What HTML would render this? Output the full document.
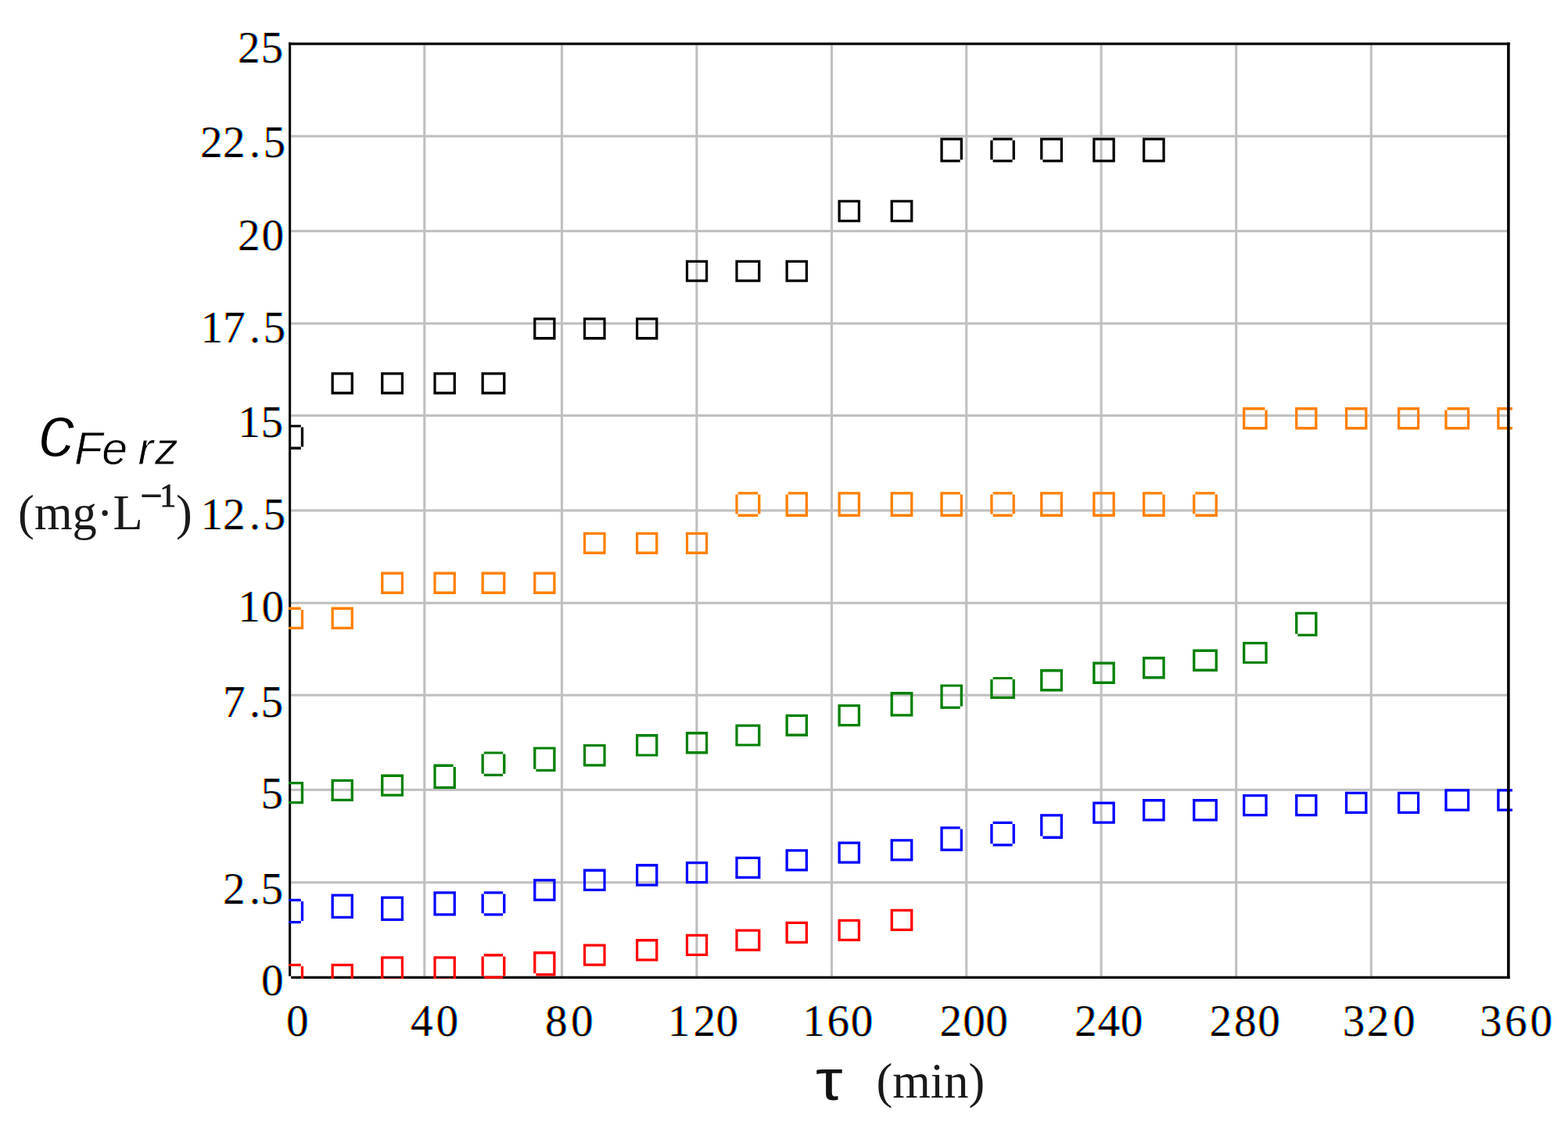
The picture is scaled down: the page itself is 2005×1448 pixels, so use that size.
<!DOCTYPE html>
<html lang="en">
<head>
<meta charset="utf-8">
<title>c Fe rz vs tau</title>
<style>
html,body{margin:0;padding:0;background:#fff;}
body{width:2005px;height:1448px;overflow:hidden;}
svg{display:block;}
.t{font-family:"Liberation Serif","DejaVu Serif",serif;font-size:57px;fill:#000;}
.u{font-family:"Liberation Serif","DejaVu Serif",serif;font-size:62.5px;fill:#1a1a1a;}
.a{font-family:"Liberation Sans","DejaVu Sans",sans-serif;font-style:italic;fill:#000;}
</style>
</head>
<body>
<svg width="2005" height="1448" viewBox="0 0 2005 1448">
<rect x="0" y="0" width="2005" height="1448" fill="#ffffff"/>
<defs><filter id="ct" filterUnits="userSpaceOnUse" x="240" y="30" width="1765" height="1310" color-interpolation-filters="sRGB"><feOffset in="SourceAlpha" dx="1.10" result="ar"/><feColorMatrix in="ar" type="matrix" values="0 0 0 0 0  0 0 0 0 1  0 0 0 0 1  0 0 0 1.00 0" result="lr"/><feColorMatrix in="SourceAlpha" type="matrix" values="0 0 0 0 1  0 0 0 0 0  0 0 0 0 1  0 0 0 1 0" result="lg"/><feOffset in="SourceAlpha" dx="-1.10" result="ab"/><feColorMatrix in="ab" type="matrix" values="0 0 0 0 1  0 0 0 0 1  0 0 0 0 0  0 0 0 1.00 0" result="lb"/><feBlend in="lr" in2="lg" mode="multiply" result="m1"/><feBlend in="m1" in2="lb" mode="multiply"/></filter></defs>
<defs><clipPath id="pc"><rect x="369.1" y="54.5" width="1564.8" height="1197.5"/></clipPath></defs>
<g fill="#c0c0c0">
<rect x="541.25" y="57.55" width="3.10" height="1191.25"/>
<rect x="716.85" y="57.55" width="3.10" height="1191.25"/>
<rect x="889.35" y="57.55" width="3.10" height="1191.25"/>
<rect x="1061.95" y="57.55" width="3.10" height="1191.25"/>
<rect x="1234.25" y="57.55" width="3.10" height="1191.25"/>
<rect x="1406.55" y="57.55" width="3.10" height="1191.25"/>
<rect x="1579.15" y="57.55" width="3.10" height="1191.25"/>
<rect x="1751.75" y="57.55" width="3.10" height="1191.25"/>
<rect x="372.15" y="172.65" width="1555.40" height="3.10"/>
<rect x="372.15" y="294.05" width="1555.40" height="3.10"/>
<rect x="372.15" y="412.25" width="1555.40" height="3.10"/>
<rect x="372.15" y="530.05" width="1555.40" height="3.10"/>
<rect x="372.15" y="651.45" width="1555.40" height="3.10"/>
<rect x="372.15" y="769.75" width="1555.40" height="3.10"/>
<rect x="372.15" y="887.65" width="1555.40" height="3.10"/>
<rect x="372.15" y="1008.75" width="1555.40" height="3.10"/>
<rect x="372.15" y="1127.25" width="1555.40" height="3.10"/>
</g>
<g fill="#000">
<rect x="369.05" y="54.45" width="3.10" height="1194.25"/>
<rect x="369.05" y="54.45" width="1561.60" height="3.20"/>
<rect x="372.15" y="1248.70" width="1558.50" height="3.20"/>
</g>
<g clip-path="url(#pc)">
<g fill="#000000">
<path d="M359.8 543.4H384.8V546.6H359.8ZM359.8 571.6H384.8V574.9H359.8ZM359.8 543.4H363.1V574.9H359.8ZM384.8 546.6H388.1V571.6H384.8Z"/>
<path d="M423.5 476.2H451.9V479.6H423.5ZM423.5 501.1H451.9V504.4H423.5ZM423.5 476.2H426.8V504.4H423.5ZM448.6 476.2H451.9V504.4H448.6Z"/>
<path d="M487.1 476.2H516V479.6H487.1ZM487.1 501.1H516V504.4H487.1ZM487.1 476.2H490.4V504.4H487.1ZM512.8 476.2H516V504.4H512.8Z"/>
<path d="M554.4 476.2H582.9V479.6H554.4ZM554.4 501.1H582.9V504.4H554.4ZM554.4 476.2H557.6V504.4H554.4ZM579.6 476.2H582.9V504.4H579.6Z"/>
<path d="M615.5 476.2H646.4V479.6H615.5ZM615.5 501.1H646.4V504.4H615.5ZM615.5 476.2H618.8V504.4H615.5ZM643.1 476.2H646.4V504.4H643.1Z"/>
<path d="M682.1 406.2H710.5V409.5H682.1ZM682.1 431.1H710.5V434.4H682.1ZM682.1 406.2H685.4V434.4H682.1ZM707.2 406.2H710.5V434.4H707.2Z"/>
<path d="M745.9 406.2H774.6V409.5H745.9ZM745.9 431.1H774.6V434.4H745.9ZM745.9 406.2H749.1V434.4H745.9ZM771.4 406.2H774.6V434.4H771.4Z"/>
<path d="M813 406.2H841.4V409.5H813ZM813 431.1H841.4V434.4H813ZM813 406.2H816.2V434.4H813ZM838.1 406.2H841.4V434.4H838.1Z"/>
<path d="M876.9 332.7H905.2V336H876.9ZM876.9 357.5H905.2V360.8H876.9ZM876.9 332.7H880.1V360.8H876.9ZM902 332.7H905.2V360.8H902Z"/>
<path d="M940.4 332.7H972.4V336H940.4ZM940.4 357.5H972.4V360.8H940.4ZM940.4 332.7H943.6V360.8H940.4ZM969.1 332.7H972.4V360.8H969.1Z"/>
<path d="M1004.5 332.7H1033V336H1004.5ZM1004.5 357.5H1033V360.8H1004.5ZM1004.5 332.7H1007.8V360.8H1004.5ZM1029.7 332.7H1033V360.8H1029.7Z"/>
<path d="M1071.5 255.8H1100.1V259.1H1071.5ZM1071.5 280.9H1100.1V284.2H1071.5ZM1071.5 255.8H1074.8V284.2H1071.5ZM1096.8 255.8H1100.1V284.2H1096.8Z"/>
<path d="M1138.6 255.8H1167.4V259.1H1138.6ZM1138.6 280.9H1167.4V284.2H1138.6ZM1138.6 255.8H1141.9V284.2H1138.6ZM1164.1 255.8H1167.4V284.2H1164.1Z"/>
<path d="M1202.4 176.2H1231V179.6H1202.4ZM1202.4 204.2H1227.7V207.5H1202.4ZM1202.4 176.2H1205.7V207.5H1202.4ZM1227.7 176.2H1231V204.2H1227.7Z"/>
<path d="M1269.6 176.2H1294.6V179.6H1269.6ZM1269.6 204.2H1294.6V207.5H1269.6ZM1266.3 179.6H1269.6V204.2H1266.3ZM1294.6 179.6H1297.9V204.2H1294.6Z"/>
<path d="M1330.1 176.2H1359V179.6H1330.1ZM1333.4 204.2H1359V207.5H1333.4ZM1330.1 176.2H1333.4V204.2H1330.1ZM1355.7 176.2H1359V207.5H1355.7Z"/>
<path d="M1397.2 176.2H1425.8V179.6H1397.2ZM1397.2 204.2H1425.8V207.5H1397.2ZM1397.2 176.2H1400.5V207.5H1397.2ZM1422.5 176.2H1425.8V207.5H1422.5Z"/>
<path d="M1461 176.2H1489.7V179.6H1461ZM1461 204.2H1489.7V207.5H1461ZM1461 176.2H1464.3V207.5H1461ZM1486.4 176.2H1489.7V207.5H1486.4Z"/>
</g>
<g fill="#ff8000">
<path d="M359.8 776.6H384.8V779.9H359.8ZM359.8 801.8H388.1V805H359.8ZM359.8 776.6H363.1V805H359.8ZM384.8 779.9H388.1V805H384.8Z"/>
<path d="M423.5 776.6H451.9V779.9H423.5ZM423.5 801.8H451.9V805H423.5ZM423.5 776.6H426.8V805H423.5ZM448.6 776.6H451.9V805H448.6Z"/>
<path d="M487.1 731.6H516V734.9H487.1ZM487.1 756.6H516V759.9H487.1ZM487.1 731.6H490.4V759.9H487.1ZM512.8 731.6H516V759.9H512.8Z"/>
<path d="M554.4 731.6H582.9V734.9H554.4ZM554.4 756.6H582.9V759.9H554.4ZM554.4 731.6H557.6V759.9H554.4ZM579.6 731.6H582.9V759.9H579.6Z"/>
<path d="M615.5 731.6H646.4V734.9H615.5ZM615.5 756.6H646.4V759.9H615.5ZM615.5 731.6H618.8V759.9H615.5ZM643.1 731.6H646.4V759.9H643.1Z"/>
<path d="M682.1 731.6H710.5V734.9H682.1ZM682.1 756.6H710.5V759.9H682.1ZM682.1 731.6H685.4V759.9H682.1ZM707.2 731.6H710.5V759.9H707.2Z"/>
<path d="M745.9 680.8H774.6V684H745.9ZM745.9 705.6H774.6V708.9H745.9ZM745.9 680.8H749.1V708.9H745.9ZM771.4 680.8H774.6V708.9H771.4Z"/>
<path d="M813 680.8H841.4V684H813ZM813 705.6H841.4V708.9H813ZM813 680.8H816.2V708.9H813ZM838.1 680.8H841.4V708.9H838.1Z"/>
<path d="M876.9 680.8H905.2V684H876.9ZM876.9 705.6H905.2V708.9H876.9ZM876.9 680.8H880.1V708.9H876.9ZM902 680.8H905.2V708.9H902Z"/>
<path d="M943.6 629.2H969.1V632.5H943.6ZM943.6 657.6H969.1V660.9H943.6ZM940.4 632.5H943.6V657.6H940.4ZM969.1 632.5H972.4V657.6H969.1Z"/>
<path d="M1007.8 629.2H1033V632.5H1007.8ZM1004.5 657.6H1033V660.9H1004.5ZM1004.5 632.5H1007.8V660.9H1004.5ZM1029.7 629.2H1033V660.9H1029.7Z"/>
<path d="M1071.5 629.2H1100.1V632.5H1071.5ZM1071.5 657.6H1100.1V660.9H1071.5ZM1071.5 629.2H1074.8V660.9H1071.5ZM1096.8 629.2H1100.1V660.9H1096.8Z"/>
<path d="M1138.6 629.2H1167.4V632.5H1138.6ZM1138.6 657.6H1167.4V660.9H1138.6ZM1138.6 629.2H1141.9V660.9H1138.6ZM1164.1 629.2H1167.4V660.9H1164.1Z"/>
<path d="M1202.4 629.2H1227.7V632.5H1202.4ZM1202.4 657.6H1231V660.9H1202.4ZM1202.4 629.2H1205.7V660.9H1202.4ZM1227.7 632.5H1231V660.9H1227.7Z"/>
<path d="M1269.6 629.2H1294.6V632.5H1269.6ZM1269.6 657.6H1294.6V660.9H1269.6ZM1266.3 632.5H1269.6V657.6H1266.3ZM1294.6 632.5H1297.9V657.6H1294.6Z"/>
<path d="M1330.1 629.2H1359V632.5H1330.1ZM1330.1 657.6H1359V660.9H1330.1ZM1330.1 629.2H1333.4V660.9H1330.1ZM1355.7 629.2H1359V660.9H1355.7Z"/>
<path d="M1397.2 629.2H1425.8V632.5H1397.2ZM1397.2 657.6H1425.8V660.9H1397.2ZM1397.2 629.2H1400.5V660.9H1397.2ZM1422.5 629.2H1425.8V660.9H1422.5Z"/>
<path d="M1461 629.2H1486.4V632.5H1461ZM1461 657.6H1489.7V660.9H1461ZM1461 629.2H1464.3V660.9H1461ZM1486.4 632.5H1489.7V660.9H1486.4Z"/>
<path d="M1528.4 629.2H1553.6V632.5H1528.4ZM1528.4 657.6H1556.9V660.9H1528.4ZM1525.1 632.5H1528.4V657.6H1525.1ZM1553.6 632.5H1556.9V660.9H1553.6Z"/>
<path d="M1589 521.1H1617.4V524.4H1589ZM1589 546.1H1620.7V549.4H1589ZM1589 521.1H1592.3V549.4H1589ZM1617.4 524.4H1620.7V549.4H1617.4Z"/>
<path d="M1656.1 521.1H1684.5V524.4H1656.1ZM1656.1 546.1H1684.5V549.4H1656.1ZM1656.1 521.1H1659.4V549.4H1656.1ZM1681.2 521.1H1684.5V549.4H1681.2Z"/>
<path d="M1719.9 521.1H1748.5V524.4H1719.9ZM1719.9 546.1H1748.5V549.4H1719.9ZM1719.9 521.1H1723.2V549.4H1719.9ZM1745.2 521.1H1748.5V549.4H1745.2Z"/>
<path d="M1787 521.1H1815.2V524.4H1787ZM1787 546.1H1815.2V549.4H1787ZM1787 521.1H1790.3V549.4H1787ZM1812 521.1H1815.2V549.4H1812Z"/>
<path d="M1850.6 521.1H1879.2V524.4H1850.6ZM1847.3 546.1H1879.2V549.4H1847.3ZM1847.3 524.4H1850.6V549.4H1847.3ZM1876 521.1H1879.2V549.4H1876Z"/>
<path d="M1914.2 521.1H1942.7V524.4H1914.2ZM1914.2 546.1H1942.7V549.4H1914.2ZM1914.2 521.1H1917.5V549.4H1914.2ZM1939.4 521.1H1942.7V549.4H1939.4Z"/>
</g>
<g fill="#008000">
<path d="M359.8 1000H388.1V1003.2H359.8ZM359.8 1025H388.1V1028.2H359.8ZM359.8 1000H363.1V1028.2H359.8ZM384.8 1000H388.1V1028.2H384.8Z"/>
<path d="M423.5 996.8H451.9V1000H423.5ZM423.5 1021.7H451.9V1025H423.5ZM423.5 996.8H426.8V1025H423.5ZM448.6 996.8H451.9V1025H448.6Z"/>
<path d="M487.1 990.6H516V993.9H487.1ZM487.1 1015.5H516V1018.8H487.1ZM487.1 990.6H490.4V1018.8H487.1ZM512.8 990.6H516V1018.8H512.8Z"/>
<path d="M554.4 977.6H579.6V980.9H554.4ZM554.4 1005.8H582.9V1009H554.4ZM554.4 977.6H557.6V1009H554.4ZM579.6 980.9H582.9V1009H579.6Z"/>
<path d="M618.8 961.4H643.1V964.6H618.8ZM618.8 989.8H643.1V993H618.8ZM615.5 964.6H618.8V989.8H615.5ZM643.1 964.6H646.4V989.8H643.1Z"/>
<path d="M682.1 955.4H710.5V958.6H682.1ZM685.4 983.8H710.5V987H685.4ZM682.1 955.4H685.4V983.8H682.1ZM707.2 955.4H710.5V987H707.2Z"/>
<path d="M745.9 951.9H774.6V955.1H745.9ZM745.9 977.2H774.6V980.5H745.9ZM745.9 951.9H749.1V980.5H745.9ZM771.4 951.9H774.6V980.5H771.4Z"/>
<path d="M813 939.1H841.4V942.4H813ZM813 964.4H841.4V967.6H813ZM813 939.1H816.2V967.6H813ZM838.1 939.1H841.4V967.6H838.1Z"/>
<path d="M876.9 936.1H905.2V939.4H876.9ZM876.9 961.1H905.2V964.4H876.9ZM876.9 936.1H880.1V964.4H876.9ZM902 936.1H905.2V964.4H902Z"/>
<path d="M940.4 926.5H972.4V929.8H940.4ZM940.4 951.4H972.4V954.6H940.4ZM940.4 926.5H943.6V954.6H940.4ZM969.1 926.5H972.4V954.6H969.1Z"/>
<path d="M1004.5 913.8H1033V917H1004.5ZM1004.5 938.6H1033V941.9H1004.5ZM1004.5 913.8H1007.8V941.9H1004.5ZM1029.7 913.8H1033V941.9H1029.7Z"/>
<path d="M1071.5 901H1100.1V904.2H1071.5ZM1071.5 926H1100.1V929.2H1071.5ZM1071.5 901H1074.8V929.2H1071.5ZM1096.8 901H1100.1V929.2H1096.8Z"/>
<path d="M1138.6 885.1H1167.4V888.4H1138.6ZM1138.6 913.2H1167.4V916.5H1138.6ZM1138.6 885.1H1141.9V916.5H1138.6ZM1164.1 885.1H1167.4V916.5H1164.1Z"/>
<path d="M1202.4 875.4H1231V878.6H1202.4ZM1202.4 903.5H1227.7V906.8H1202.4ZM1202.4 875.4H1205.7V906.8H1202.4ZM1227.7 875.4H1231V903.5H1227.7Z"/>
<path d="M1269.6 865.9H1294.6V869.1H1269.6ZM1266.3 890.8H1297.9V894H1266.3ZM1266.3 869.1H1269.6V894H1266.3ZM1294.6 869.1H1297.9V894H1294.6Z"/>
<path d="M1330.1 856.1H1359V859.4H1330.1ZM1330.1 881.1H1359V884.4H1330.1ZM1330.1 856.1H1333.4V884.4H1330.1ZM1355.7 856.1H1359V884.4H1355.7Z"/>
<path d="M1397.2 846.6H1425.8V849.9H1397.2ZM1397.2 871.6H1425.8V874.9H1397.2ZM1397.2 846.6H1400.5V874.9H1397.2ZM1422.5 846.6H1425.8V874.9H1422.5Z"/>
<path d="M1461 840.1H1489.7V843.4H1461ZM1461 865.1H1489.7V868.4H1461ZM1461 840.1H1464.3V868.4H1461ZM1486.4 840.1H1489.7V868.4H1486.4Z"/>
<path d="M1525.1 830.6H1556.9V833.9H1525.1ZM1525.1 855.6H1556.9V858.9H1525.1ZM1525.1 830.6H1528.4V858.9H1525.1ZM1553.6 830.6H1556.9V858.9H1553.6Z"/>
<path d="M1589 821H1620.7V824.2H1589ZM1589 845.9H1620.7V849.1H1589ZM1589 821H1592.3V849.1H1589ZM1617.4 821H1620.7V849.1H1617.4Z"/>
<path d="M1656.1 782.8H1684.5V786H1656.1ZM1659.4 810.8H1684.5V814H1659.4ZM1656.1 782.8H1659.4V810.8H1656.1ZM1681.2 782.8H1684.5V814H1681.2Z"/>
</g>
<g fill="#0000ff">
<path d="M359.8 1149.8H384.8V1153.1H359.8ZM359.8 1178H384.8V1181.2H359.8ZM359.8 1149.8H363.1V1181.2H359.8ZM384.8 1153.1H388.1V1178H384.8Z"/>
<path d="M423.5 1143.5H451.9V1146.8H423.5ZM423.5 1171.8H451.9V1175.1H423.5ZM423.5 1143.5H426.8V1175.1H423.5ZM448.6 1143.5H451.9V1175.1H448.6Z"/>
<path d="M487.1 1146.5H516V1149.8H487.1ZM487.1 1174.8H516V1178.1H487.1ZM487.1 1146.5H490.4V1178.1H487.1ZM512.8 1146.5H516V1178.1H512.8Z"/>
<path d="M554.4 1140.3H582.9V1143.6H554.4ZM554.4 1168.3H582.9V1171.6H554.4ZM554.4 1140.3H557.6V1171.6H554.4ZM579.6 1140.3H582.9V1171.6H579.6Z"/>
<path d="M618.8 1140.3H643.1V1143.6H618.8ZM618.8 1168.3H643.1V1171.6H618.8ZM615.5 1143.6H618.8V1168.3H615.5ZM643.1 1143.6H646.4V1168.3H643.1Z"/>
<path d="M682.1 1124.3H710.5V1127.6H682.1ZM682.1 1149.4H710.5V1152.7H682.1ZM682.1 1124.3H685.4V1152.7H682.1ZM707.2 1124.3H710.5V1152.7H707.2Z"/>
<path d="M745.9 1111.6H774.6V1114.9H745.9ZM745.9 1136.7H774.6V1140H745.9ZM745.9 1111.6H749.1V1140H745.9ZM771.4 1111.6H774.6V1140H771.4Z"/>
<path d="M813 1105.1H841.4V1108.4H813ZM813 1130.4H841.4V1133.7H813ZM813 1105.1H816.2V1133.7H813ZM838.1 1105.1H841.4V1133.7H838.1Z"/>
<path d="M876.9 1101.9H905.2V1105.2H876.9ZM876.9 1126.9H905.2V1130.2H876.9ZM876.9 1101.9H880.1V1130.2H876.9ZM902 1101.9H905.2V1130.2H902Z"/>
<path d="M940.4 1095.8H972.4V1099H940.4ZM940.4 1120.7H972.4V1124H940.4ZM940.4 1095.8H943.6V1124H940.4ZM969.1 1095.8H972.4V1124H969.1Z"/>
<path d="M1004.5 1086.2H1033V1089.5H1004.5ZM1004.5 1111.2H1033V1114.5H1004.5ZM1004.5 1086.2H1007.8V1114.5H1004.5ZM1029.7 1086.2H1033V1114.5H1029.7Z"/>
<path d="M1071.5 1076.5H1100.1V1079.8H1071.5ZM1071.5 1101.5H1100.1V1104.8H1071.5ZM1071.5 1076.5H1074.8V1104.8H1071.5ZM1096.8 1076.5H1100.1V1104.8H1096.8Z"/>
<path d="M1138.6 1073.2H1167.4V1076.5H1138.6ZM1138.6 1098.2H1167.4V1101.5H1138.6ZM1138.6 1073.2H1141.9V1101.5H1138.6ZM1164.1 1073.2H1167.4V1101.5H1164.1Z"/>
<path d="M1202.4 1057.3H1227.7V1060.6H1202.4ZM1202.4 1085.5H1231V1088.8H1202.4ZM1202.4 1057.3H1205.7V1088.8H1202.4ZM1227.7 1060.6H1231V1088.8H1227.7Z"/>
<path d="M1269.6 1050.8H1294.6V1054.1H1269.6ZM1269.6 1079.3H1294.6V1082.6H1269.6ZM1266.3 1054.1H1269.6V1079.3H1266.3ZM1294.6 1054.1H1297.9V1079.3H1294.6Z"/>
<path d="M1330.1 1041.3H1359V1044.6H1330.1ZM1333.4 1069.6H1359V1072.9H1333.4ZM1330.1 1041.3H1333.4V1069.6H1330.1ZM1355.7 1041.3H1359V1072.9H1355.7Z"/>
<path d="M1397.2 1025.4H1425.8V1028.7H1397.2ZM1397.2 1050.4H1425.8V1053.7H1397.2ZM1397.2 1025.4H1400.5V1053.7H1397.2ZM1422.5 1025.4H1425.8V1053.7H1422.5Z"/>
<path d="M1461 1022.1H1489.7V1025.5H1461ZM1461 1047.2H1489.7V1050.5H1461ZM1461 1022.1H1464.3V1050.5H1461ZM1486.4 1022.1H1489.7V1050.5H1486.4Z"/>
<path d="M1525.1 1022.1H1556.9V1025.5H1525.1ZM1525.1 1047.2H1556.9V1050.5H1525.1ZM1525.1 1022.1H1528.4V1050.5H1525.1ZM1553.6 1022.1H1556.9V1050.5H1553.6Z"/>
<path d="M1589 1016H1620.7V1019.2H1589ZM1589 1040.9H1620.7V1044.2H1589ZM1589 1016H1592.3V1044.2H1589ZM1617.4 1016H1620.7V1044.2H1617.4Z"/>
<path d="M1656.1 1016H1684.5V1019.2H1656.1ZM1656.1 1040.9H1684.5V1044.2H1656.1ZM1656.1 1016H1659.4V1044.2H1656.1ZM1681.2 1016H1684.5V1044.2H1681.2Z"/>
<path d="M1719.9 1012.8H1748.5V1016H1719.9ZM1719.9 1037.7H1748.5V1041H1719.9ZM1719.9 1012.8H1723.2V1041H1719.9ZM1745.2 1012.8H1748.5V1041H1745.2Z"/>
<path d="M1787 1012.8H1815.2V1016H1787ZM1787 1037.7H1815.2V1041H1787ZM1787 1012.8H1790.3V1041H1787ZM1812 1012.8H1815.2V1041H1812Z"/>
<path d="M1847.3 1009.2H1879.2V1012.5H1847.3ZM1847.3 1034.5H1879.2V1037.8H1847.3ZM1847.3 1009.2H1850.6V1037.8H1847.3ZM1876 1009.2H1879.2V1037.8H1876Z"/>
<path d="M1914.2 1009.2H1942.7V1012.5H1914.2ZM1914.2 1034.5H1942.7V1037.8H1914.2ZM1914.2 1009.2H1917.5V1037.8H1914.2ZM1939.4 1009.2H1942.7V1037.8H1939.4Z"/>
</g>
<g fill="#ff0000">
<path d="M359.8 1232.8H384.8V1236H359.8ZM359.8 1257.9H388.1V1261.2H359.8ZM359.8 1232.8H363.1V1261.2H359.8ZM384.8 1236H388.1V1261.2H384.8Z"/>
<path d="M423.5 1232.8H451.9V1236H423.5ZM423.5 1257.9H451.9V1261.2H423.5ZM423.5 1232.8H426.8V1261.2H423.5ZM448.6 1232.8H451.9V1261.2H448.6Z"/>
<path d="M487.1 1223.3H516V1226.6H487.1ZM487.1 1251.6H516V1254.9H487.1ZM487.1 1223.3H490.4V1254.9H487.1ZM512.8 1223.3H516V1254.9H512.8Z"/>
<path d="M554.4 1223.3H582.9V1226.6H554.4ZM554.4 1251.6H582.9V1254.9H554.4ZM554.4 1223.3H557.6V1254.9H554.4ZM579.6 1223.3H582.9V1254.9H579.6Z"/>
<path d="M618.8 1220.1H643.1V1223.4H618.8ZM618.8 1248.4H643.1V1251.7H618.8ZM615.5 1223.4H618.8V1248.4H615.5ZM643.1 1223.4H646.4V1248.4H643.1Z"/>
<path d="M682.1 1217.1H710.5V1220.4H682.1ZM685.4 1245.1H710.5V1248.4H685.4ZM682.1 1217.1H685.4V1245.1H682.1ZM707.2 1217.1H710.5V1248.4H707.2Z"/>
<path d="M745.9 1207.4H774.6V1210.7H745.9ZM745.9 1232.4H774.6V1235.7H745.9ZM745.9 1207.4H749.1V1235.7H745.9ZM771.4 1207.4H774.6V1235.7H771.4Z"/>
<path d="M813 1201.1H841.4V1204.4H813ZM813 1226.2H841.4V1229.5H813ZM813 1201.1H816.2V1229.5H813ZM838.1 1201.1H841.4V1229.5H838.1Z"/>
<path d="M876.9 1194.8H905.2V1198H876.9ZM876.9 1219.7H905.2V1223H876.9ZM876.9 1194.8H880.1V1223H876.9ZM902 1194.8H905.2V1223H902Z"/>
<path d="M940.4 1188.4H972.4V1191.7H940.4ZM940.4 1213.5H972.4V1216.8H940.4ZM940.4 1188.4H943.6V1216.8H940.4ZM969.1 1188.4H972.4V1216.8H969.1Z"/>
<path d="M1004.5 1178.8H1033V1182H1004.5ZM1004.5 1203.7H1033V1207H1004.5ZM1004.5 1178.8H1007.8V1207H1004.5ZM1029.7 1178.8H1033V1207H1029.7Z"/>
<path d="M1071.5 1175.8H1100.1V1179H1071.5ZM1071.5 1200.7H1100.1V1204H1071.5ZM1071.5 1175.8H1074.8V1204H1071.5ZM1096.8 1175.8H1100.1V1204H1096.8Z"/>
<path d="M1138.6 1162.8H1167.4V1166H1138.6ZM1138.6 1187.8H1167.4V1191.1H1138.6ZM1138.6 1162.8H1141.9V1191.1H1138.6ZM1164.1 1162.8H1167.4V1191.1H1164.1Z"/>
</g>
</g>
<rect x="1927.05" y="54.45" width="3.60" height="1197.45" fill="#000"/>
<g class="t" filter="url(#ct)">
<text x="303.9 333.6" y="79.9">25</text>
<text x="256.1 285.1 318.8 336.6" y="201.4">22.5</text>
<text x="303.9 334.4" y="319.6">20</text>
<text x="256.6 285.1 318.8 336.6" y="437.7">17.5</text>
<text x="304.2 333.6" y="558.9">15</text>
<text x="256.6 285.1 318.8 336.6" y="676.8">12.5</text>
<text x="304.2 334.4" y="794.9">10</text>
<text x="285.1 318.8 333.6" y="916.6">7.5</text>
<text x="333.6" y="1034.3">5</text>
<text x="285.1 318.8 333.6" y="1155.8">2.5</text>
<text x="334.1" y="1273.2">0</text>
<text x="365.9" y="1324.6">0</text>
<text x="525.1 557.5" y="1324.6">40</text>
<text x="697.1 730.0" y="1324.6">80</text>
<text x="853.8 886.6 915.5" y="1324.6">120</text>
<text x="1026.3 1057.4 1087.8" y="1324.6">160</text>
<text x="1201.6 1231.2 1260.2" y="1324.6">200</text>
<text x="1374.1 1403.6 1432.7" y="1324.6">240</text>
<text x="1546.5 1578.0 1608.2" y="1324.6">280</text>
<text x="1716.8 1747.8 1781.0" y="1324.6">320</text>
<text x="1892.0 1924.1 1956.5" y="1324.6">360</text>
</g>
<text class="a" x="49.1" y="583.7" style="font-size:95px;stroke:#fff;stroke-width:2px">c</text>
<text class="a" x="95.1 130.3 160 176.5 198" y="594" style="font-size:59px;stroke:#fff;stroke-width:0.8px">Fe rz</text>
<text class="u" x="23.1" y="676.6">(mg·L</text>
<text class="u" style="stroke:#1a1a1a;stroke-width:0.9px"><tspan x="179.2" y="650.8" style="font-size:50px">−</tspan><tspan x="204.3" y="647.8" style="font-size:42px">1</tspan></text>
<text class="u" x="224.9" y="676.6">)</text>
<g transform="translate(1043,1406.8) scale(1.18,1)"><text x="0" y="0" style="font-family:'Liberation Sans','DejaVu Sans',sans-serif;font-size:74px;fill:#111">τ</text></g>
<text class="u" x="1120.4" y="1404">(min)</text>
</svg>
</body>
</html>
